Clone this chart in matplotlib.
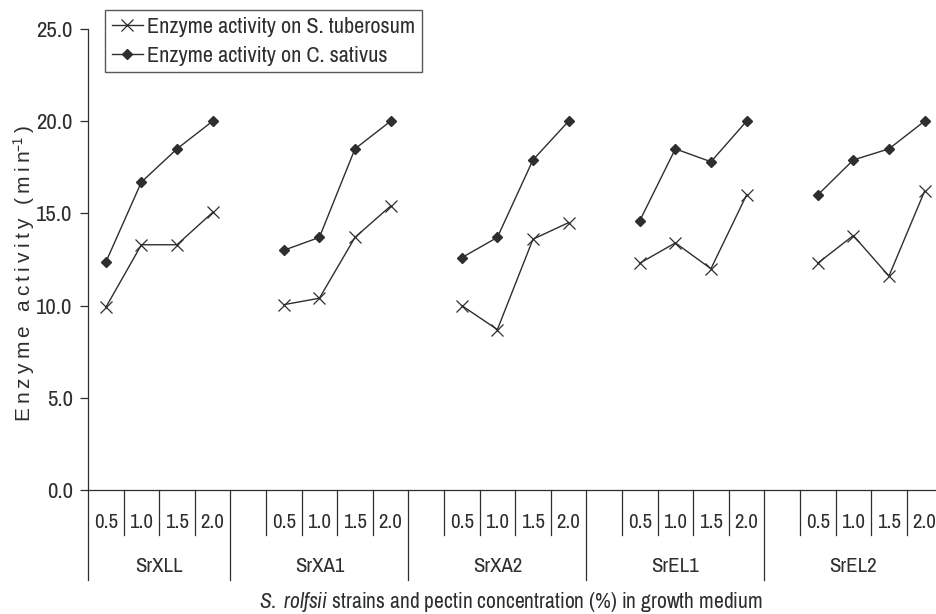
#%% IMPORTS ~~~~~~~~~~~~~~~~~~~~~~~~~~~~~~~~~~~~~~~~~~~~
import matplotlib
matplotlib.use('Agg')
import matplotlib.pyplot as plt
import matplotlib.transforms as mtransforms

#%% DATA ~~~~~~~~~~~~~~~~~~~~~~~~~~~~~~~~~~~~~~~~~~~~
strains = ['SrXLL', 'SrXA1', 'SrXA2', 'SrEL1', 'SrEL2']
pectin_conc = ['0.5', '1.0', '1.5', '2.0']

# enzyme activity (per minute), one row per strain, one value per pectin level
tuberosum_activity = [
    [9.9, 13.3, 13.3, 15.05],
    [10.05, 10.4, 13.7, 15.4],
    [10.0, 8.7, 13.6, 14.5],
    [12.3, 13.4, 12.0, 16.0],
    [12.3, 13.8, 11.6, 16.2],
]
sativus_activity = [
    [12.35, 16.7, 18.5, 20.0],
    [13.0, 13.7, 18.5, 20.0],
    [12.6, 13.7, 17.9, 20.0],
    [14.6, 18.5, 17.8, 20.0],
    [16.0, 17.9, 18.5, 20.0],
]

y_ticks = [0.0, 5.0, 10.0, 15.0, 20.0, 25.0]

#%% CONFIGURATION ~~~~~~~~~~~~~~~~~~~~~~~~~~~~~~~~~~~~~~~~~~~~
narrow = ['Archivo Narrow', 'Liberation Sans', 'DejaVu Sans']
plt.rcParams['font.family'] = narrow
plt.rcParams['mathtext.fontset'] = 'custom'
plt.rcParams['mathtext.rm'] = 'Archivo Narrow'
plt.rcParams['mathtext.it'] = 'Archivo Narrow:italic'
ink = '#2e2e2e'
fsize = 15

#%% PLOT ~~~~~~~~~~~~~~~~~~~~~~~~~~~~~~~~~~~~~~~~~~~~
fig = plt.figure(figsize=(9.37, 6.14), dpi=100)
fig.patch.set_facecolor('white')
ax = fig.add_axes([88 / 937, 1 - 490 / 614, 1 - 88 / 937, (490 - 29) / 614])
ax.set_facecolor('none')

# every strain block is 5 slots wide: one empty slot, then the 4 pectin levels
# (the first block has no leading empty slot)
def slot_center(g, j):
    return 5 * g + j + 0.5

for g, name in enumerate(strains):
    xs = [slot_center(g, j) for j in range(len(pectin_conc))]
    ax.plot(xs, tuberosum_activity[g], color=ink, lw=1.0, marker='x',
            markersize=9, markeredgewidth=0.9,
            label='Enzyme activity on S. tuberosum' if g == 0 else None)
    ax.plot(xs, sativus_activity[g], color=ink, lw=1.0, marker='D',
            markersize=5.5, markerfacecolor=ink, markeredgecolor=ink,
            label='Enzyme activity on C. sativus' if g == 0 else None)

ax.set_xlim(0, 23.85)
ax.set_ylim(0, 25)
ax.set_yticks(y_ticks)
ax.set_yticklabels([f'{v:.1f}' for v in y_ticks], fontsize=16.5)
ax.tick_params(axis='y', direction='out', length=6, width=0.9, colors=ink, pad=5)
ax.set_xticks([])
for side in ['top', 'right']:
    ax.spines[side].set_visible(False)
for side in ['left', 'bottom']:
    ax.spines[side].set_color(ink)
    ax.spines[side].set_linewidth(0.9)

# category axis drawn by hand: short ticks between levels, long ones between strains
trans = mtransforms.blended_transform_factory(ax.transData, ax.transAxes)
short_y = -45 / 461
tall_y = -90 / 461
group_edges = [0, 4, 9, 14, 19, 24]
for k in range(0, 24):
    bottom = tall_y if k in group_edges else short_y
    ax.plot([k, k], [0, bottom], color=ink, lw=0.9, transform=trans, clip_on=False)

for g, name in enumerate(strains):
    for j, c in enumerate(pectin_conc):
        ax.text(slot_center(g, j), -33 / 461, c, transform=trans, ha='center',
                va='center', fontsize=fsize, color=ink, clip_on=False)
    mid = (group_edges[g] + group_edges[g + 1]) / 2
    ax.text(mid, -77 / 461, name, transform=trans, ha='center', va='center',
            fontsize=fsize, color=ink, clip_on=False)

fig.text(511 / 937, 1 - 602 / 614,
         r'$\mathit{S.\ rolfsii}$ strains and pectin concentration (%) in growth medium',
         ha='center', va='center', fontsize=15.5, color=ink)

# y label is set with wide tracking (thin spaces between letters)
thin = '\u2009'
ylab = thin.join('Enzyme activity (min') + r'$^{-1}$' + thin + ')'
fig.text(24 / 937, 1 - 274 / 614, ylab, rotation=90,
         ha='center', va='center', fontsize=15, color=ink,
         family=['Liberation Sans', 'DejaVu Sans'])

leg = ax.legend(loc='upper left', bbox_to_anchor=(105 / 937, 1 - 10 / 614),
                bbox_transform=fig.transFigure, fontsize=16, frameon=True,
                fancybox=False, handlelength=1.4, handletextpad=0.2,
                borderpad=0.3, labelspacing=0.4, borderaxespad=0)
leg.get_frame().set_edgecolor(ink)
leg.get_frame().set_linewidth(1.0)
for t in leg.get_texts():
    t.set_color(ink)

fig.savefig('out.png', dpi=100)
